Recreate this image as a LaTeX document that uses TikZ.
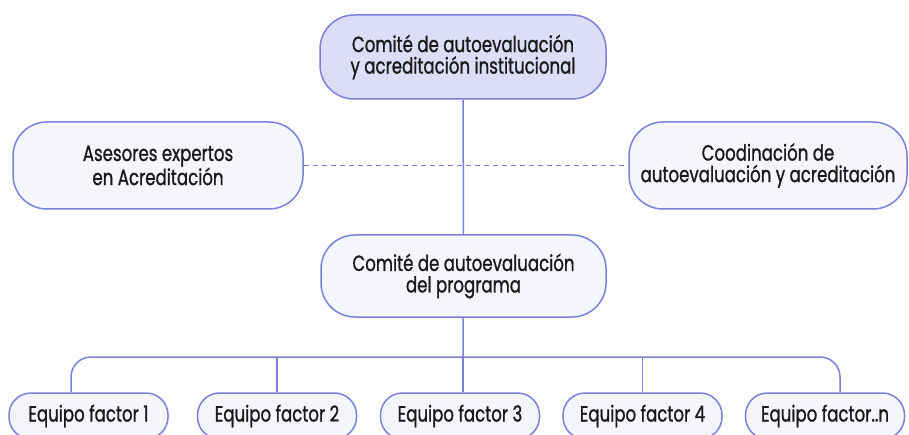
\documentclass[tikz,border=0pt]{standalone}
\usepackage{fontspec}
\setmainfont{Poppins}[FakeStretch=0.755, FakeBold=1.0]
\usepackage{tikz}
\usetikzlibrary{calc, positioning}

\definecolor{lineblue}{HTML}{7C80DA}
\definecolor{topfill}{HTML}{DCDDF7}
\definecolor{boxfill}{HTML}{F5F6FC}

\begin{document}
\begin{tikzpicture}[x=1pt, y=-1pt, semithick,
	box/.style={draw=lineblue, line width=1.5pt, fill=boxfill, rounded corners=34pt, align=center, inner sep=0pt, text=black!90, font=\fontsize{22}{21.5}\selectfont},
	factor/.style={box, rounded corners=22pt, minimum width=159pt, minimum height=46pt},
	link/.style={draw=lineblue, line width=1.5pt}]
	\useasboundingbox (0,0) rectangle (909,435);
	\node[box, fill=topfill, minimum width=286pt, minimum height=84pt] (inst) at (463,57) {Comité de autoevaluación\\y acreditación institucional};
	\node[box, minimum width=290pt, minimum height=87pt] (aseso) at (158,165.5) {Asesores expertos\\en Acreditación};
	\node[box, minimum width=278pt, minimum height=87pt] (coord) at (768,165.5) {Coodinación de\\autoevaluación y acreditación};
	\node[box, minimum width=285pt, minimum height=82pt] (prog) at (463.5,276) {Comité de autoevaluación\\del programa};
	\node[factor] (f1) at (88.5,416) {Equipo factor 1};
	\node[factor] (f2) at (277,416) {Equipo factor 2};
	\node[factor] (f3) at (460,416) {Equipo factor 3};
	\node[factor] (f4) at (642.5,416) {Equipo factor 4};
	\node[factor] (fn) at (825,416) {Equipo factor..n};
	\coordinate (bus) at (463,357);
	\coordinate (lft) at (71,357);
	\coordinate (rgt) at (840,357);
	% vertical trunk
	\draw[link] (inst) -- (prog);
	\draw[link] (prog) -- (bus);
	\draw[link, dashed, dash pattern=on 5pt off 4pt] (aseso) -- (coord);
	% branches
	\draw[link, rounded corners=20pt] (f1.north -| lft) -- (lft) -- (rgt) -- (fn.north -| rgt);
	\draw[link] (bus) -- (f3.north -| bus);
	\draw[link] (f2.north |- bus) -- (f2.north);
	\draw[link] (f4.north |- bus) -- (f4.north);
\end{tikzpicture}
\end{document}
